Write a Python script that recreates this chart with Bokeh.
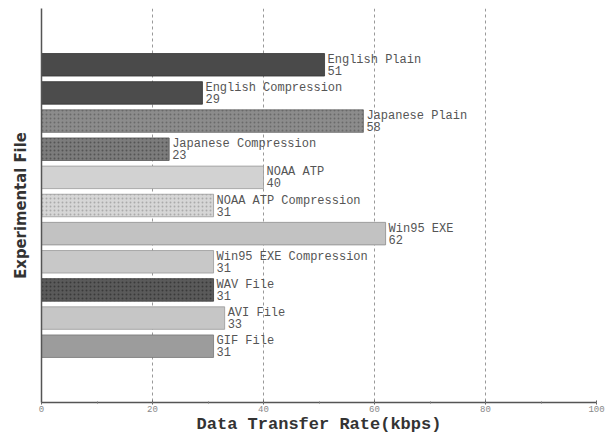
from bokeh.plotting import figure
from bokeh.models import ColumnDataSource, Range1d, SingleIntervalTicker, FixedTicker
from bokeh.core.properties import value
from bokeh.embed import file_html
from bokeh.resources import INLINE

files = ["English Plain", "English Compression", "Japanese Plain", "Japanese Compression",
         "NOAA ATP", "NOAA ATP Compression", "Win95 EXE", "Win95 EXE Compression",
         "WAV File", "AVI File", "GIF File"]
rates = [51, 29, 58, 23, 40, 31, 62, 31, 31, 33, 31]
fills = ["#4a4a4a", "#4c4c4c", "#8c8c8c", "#7c7c7c", "#d2d2d2", "#d6d6d6",
         "#c2c2c2", "#c8c8c8", "#5a5a5a", "#c6c6c6", "#9c9c9c"]
edges = ["#333333", "#333333", "#666666", "#555555", "#999999", "#9a9a9a",
         "#8a8a8a", "#999999", "#3a3a3a", "#999999", "#777777"]
hatches = [" ", " ", ".", ".", " ", ".", " ", " ", ".", " ", " "]
hatch_colors = ["#3a3a3a", "#3a3a3a", "#6a6a6a", "#555555", "#b0b0b0", "#aaaaaa",
                "#aaaaaa", "#aaaaaa", "#3a3a3a", "#aaaaaa", "#888888"]
x_label = "Data Transfer Rate(kbps)"
y_label = "Experimental File"

n = len(files)
rank = [i + 1 for i in range(n)]

src = ColumnDataSource(dict(file=files, rank=rank, rate=rates, fill=fills, edge=edges,
                            hatch=hatches, hcol=hatch_colors,
                            val=[str(r) for r in rates]))

p = figure(width=605, height=438, output_backend="svg", toolbar_location=None,
           x_range=Range1d(0, 100), y_range=Range1d(n + 2, -1),
           min_border_left=41, min_border_right=9, min_border_top=8, min_border_bottom=36)

p.hbar(y="rank", right="rate", left=0, height=0.8, source=src,
       fill_color="fill", line_color="edge", line_width=0.8,
       hatch_pattern="hatch", hatch_color="hcol", hatch_scale=4, hatch_weight=1)

p.text(x="rate", y="rank", text="file", source=src, x_offset=3, y_offset=-5,
       text_baseline="middle", text_align="left", text_font=value("Liberation Mono"),
       text_font_size="12px", text_color="#555555")
p.text(x="rate", y="rank", text="val", source=src, x_offset=3, y_offset=5.5,
       text_baseline="middle", text_align="left", text_font=value("Liberation Mono"),
       text_font_size="12px", text_color="#555555")

p.outline_line_color = None
p.ygrid.grid_line_color = None
p.xgrid.grid_line_color = "#999999"
p.xgrid.grid_line_dash = "3 3"
p.xgrid.grid_line_width = 1

p.xaxis.ticker = SingleIntervalTicker(interval=20, num_minor_ticks=2)
p.xaxis.axis_line_color = "#555555"
p.xaxis.axis_line_width = 1.5
p.xaxis.major_tick_line_color = "#555555"
p.xaxis.major_tick_in = 2
p.xaxis.major_tick_out = 2
p.xaxis.minor_tick_line_color = "#777777"
p.xaxis.minor_tick_in = 1
p.xaxis.minor_tick_out = 1
p.xaxis.major_label_text_font = "Liberation Mono"
p.xaxis.major_label_text_font_size = "9px"
p.xaxis.major_label_text_color = "#888888"
p.xaxis.major_label_standoff = 1
p.xaxis.axis_label = x_label
p.xaxis.axis_label_text_font = "Liberation Mono"
p.xaxis.axis_label_text_font_style = "bold"
p.xaxis.axis_label_text_font_size = "17px"
p.xaxis.axis_label_text_color = "#333333"
p.xaxis.axis_label_standoff = 0

p.yaxis.ticker = FixedTicker(ticks=[])
p.yaxis.axis_line_color = "#555555"
p.yaxis.axis_line_width = 1.5
p.yaxis.major_tick_line_color = None
p.yaxis.minor_tick_line_color = None
p.yaxis.axis_label = y_label
p.yaxis.axis_label_text_font = "DejaVu Sans Condensed, Roboto"
p.yaxis.axis_label_text_font_style = "bold"
p.yaxis.axis_label_text_font_size = "16.5px"
p.yaxis.axis_label_text_color = "#333333"
p.yaxis.axis_label_standoff = 12

open("out.html", "w").write(file_html(p, INLINE))
